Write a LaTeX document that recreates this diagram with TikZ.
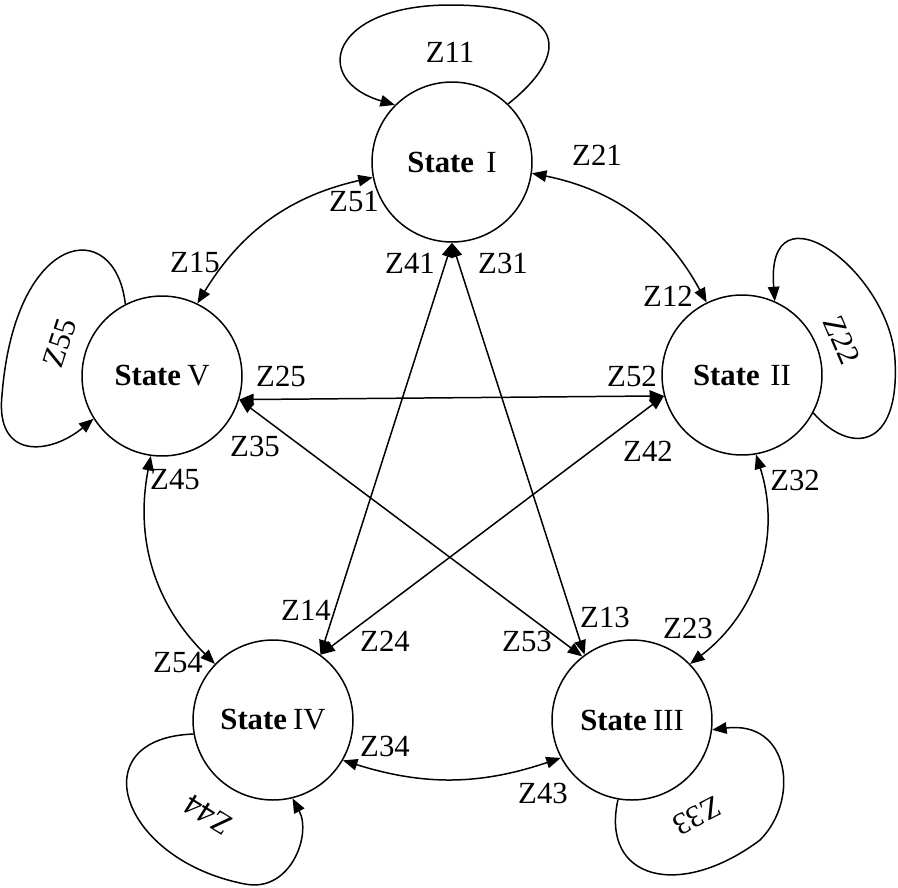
\documentclass[tikz,border=0pt]{standalone}
\usepackage{fontspec}
\setmainfont{Liberation Serif}
\usetikzlibrary{arrows.meta}

\begin{document}
\begin{tikzpicture}[x=0.02cm, y=-0.02cm,
  state/.style={draw, circle, line width=0.85pt, minimum size=3.2cm, inner sep=0pt, font=\fontsize{17.5}{20}\selectfont},
  lab/.style={inner sep=1pt, font=\fontsize{17.5}{20}\selectfont},
  link/.style={{Triangle[length=0.29cm,width=0.23cm]}-{Triangle[length=0.29cm,width=0.23cm]}, line width=0.85pt},
  selfloop/.style={-{Triangle[length=0.29cm,width=0.23cm]}, line width=0.85pt}]
  \useasboundingbox (0,0) rectangle (898,887);

  \node (sI) [state] at (452,162) {\textbf{State}\hspace{0.4em}I};
  \node (sII) [state] at (742,375) {\textbf{State}\hspace{0.35em}II};
  \node (sIII) [state] at (632,720) {\textbf{State}\hspace{0.2em}III};
  \node (sIV) [state] at (273,720) {\textbf{State}\hspace{0.2em}IV};
  \node (sV) [state] at (162,376) {\textbf{State}\hspace{0.2em}V};

  % outer ring
  \draw [link] (sI.-8) to [bend left=25] (sII.116);
  \draw [link] (sII.-80) to [bend left=35] (sIII.44);
  \draw [link] (sIII.208) to [bend left=18] (sIV.-30);
  \draw [link] (sIV.136) to [bend left=28] (sV.-98);
  \draw [link] (sV.64) to [bend left=23] (sI.191);

  % star
  \draw [link] (sI.-90) -- (sIV.54);
  \draw [link] (sI.-90) -- (sIII.126);
  \draw [link] (sV.-17) -- (sII.195);
  \draw [link] (sV.-17) -- (sIII.128);
  \draw [link] (sII.195) -- (sIV.54);

  % self loops
  \draw [selfloop] (sI.46) .. controls (570,55) and (570,5) .. (450,5)
    .. controls (330,5) and (310,80) .. (sI.135);
  \draw [selfloop] (sII.-28) .. controls (850,455) and (900,450) .. (895,360)
    .. controls (890,270) and (765,180) .. (sII.66);
  \draw [selfloop] (sV.117) .. controls (115,215) and (15,230) .. (2,395)
    .. controls (-5,460) and (50,455) .. (sV.212);
  \draw [selfloop] (sIV.190) .. controls (80,738) and (120,860) .. (245,884)
    .. controls (290,893) and (312,835) .. (sIV.-76);
  \draw [selfloop] (sIII.-100) .. controls (600,880) and (680,900) .. (760,840)
    .. controls (800,800) and (790,720) .. (sIII.-7);

  % labels
  \node (z11) [lab] at (450,52) {Z11};
  \node (z21) [lab] at (597,155) {Z21};
  \node (z51) [lab] at (354,201) {Z51};
  \node (z41) [lab] at (410,263) {Z41};
  \node (z31) [lab] at (503,263) {Z31};
  \node (z15) [lab] at (195,262) {Z15};
  \node (z12) [lab] at (668,296) {Z12};
  \node (z25) [lab] at (281,376) {Z25};
  \node (z52) [lab] at (632,376) {Z52};
  \node (z35) [lab] at (255,446) {Z35};
  \node (z42) [lab] at (648,451) {Z42};
  \node (z45) [lab] at (175,480) {Z45};
  \node (z32) [lab] at (795,480) {Z32};
  \node (z14) [lab] at (306,610) {Z14};
  \node (z24) [lab] at (385,641) {Z24};
  \node (z13) [lab] at (605,617) {Z13};
  \node (z53) [lab] at (527,641) {Z53};
  \node (z23) [lab] at (688,628) {Z23};
  \node (z54) [lab] at (178,663) {Z54};
  \node (z34) [lab] at (385,746) {Z34};
  \node (z43) [lab] at (543,793) {Z43};
  \node (z22) [lab, rotate=-67] at (842,340) {Z22};
  \node (z55) [lab, rotate=72] at (60,343) {Z55};
  \node (z44) [lab, rotate=148] at (208,815) {Z44};
  \node (z33) [lab, rotate=207] at (697,816) {Z33};
\end{tikzpicture}
\end{document}
